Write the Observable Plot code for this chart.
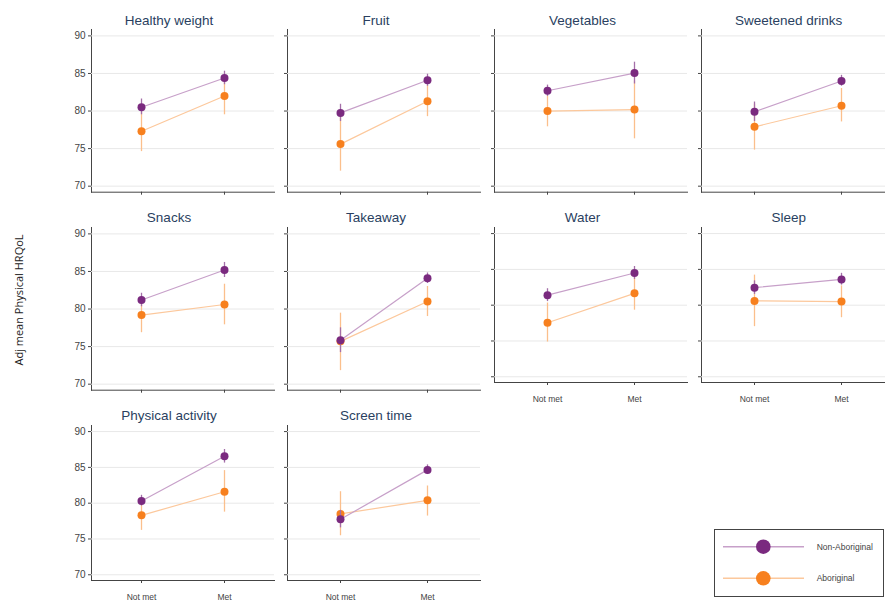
<!DOCTYPE html>
<html><head><meta charset="utf-8">
<script src="https://cdn.jsdelivr.net/npm/d3@7"></script>
<script src="https://cdn.jsdelivr.net/npm/@observablehq/plot@0.6"></script>
<style>
body{margin:0;background:#fff;}
#chart{position:relative;width:885px;height:602px;overflow:hidden;font-family:"Liberation Sans",Arial,sans-serif;}
.panel{position:absolute;}
.panel svg{max-width:none !important;}
#overlay{position:absolute;left:0;top:0;pointer-events:none;}
</style></head><body><div id="chart"></div>
<script>
const panelNames = ["Healthy weight","Fruit","Vegetables","Sweetened drinks","Snacks","Takeaway","Water","Sleep","Physical activity","Screen time"];
const levels = ["Not met","Met"];
const groups = ["Non-Aboriginal","Aboriginal"];
const yTicks = [70,75,80,85,90];
const yLabel = "Adj mean Physical HRQoL";
const nonAbMean = [[80.5,84.4],[79.75,84.1],[82.7,85.05],[79.9,84.0],[81.2,85.2],[75.85,84.1],[81.4,84.5],[82.45,83.6],[80.3,86.55],[77.75,84.65]];
const nonAbLow  = [[79.5,83.5],[78.6,83.3],[81.95,83.6],[78.6,83.3],[80.3,84.2],[74.2,83.4],[80.5,83.6],[81.5,82.8],[79.6,85.6],[76.55,84.0]];
const nonAbHigh = [[81.6,85.3],[80.9,84.9],[83.45,86.5],[81.2,84.75],[82.1,86.2],[77.5,84.8],[82.3,85.4],[83.4,84.45],[81.1,87.5],[79.0,85.35]];
const abMean = [[77.3,82.0],[75.6,81.3],[80.0,80.2],[77.9,80.7],[79.2,80.6],[75.7,81.0],[77.55,81.65],[80.6,80.5],[78.3,81.6],[78.5,80.4]];
const abLow  = [[74.6,79.5],[72.0,79.25],[77.9,76.3],[74.8,78.55],[76.85,77.9],[71.8,79.0],[74.85,79.3],[77.0,78.25],[76.2,78.75],[75.45,78.2]];
const abHigh = [[79.9,84.5],[79.2,83.4],[82.0,84.0],[80.9,83.0],[81.5,83.3],[79.45,83.0],[80.3,84.0],[84.2,82.7],[80.4,84.55],[81.6,82.4]];

// layout / style
const colL = [90.5, 287, 493.5, 700.5];
const colW = [183, 193, 193, 193];
const rowT = [29.3, 227.3, 424.9];
const hFull = 162.7, hShort = 155.0;
const titleX = [169, 376, 582.5, 788.7];
const titleY = [20, 217, 415.7];
const yDomain = [69.2, 90.85];
const style = {
  "Non-Aboriginal": {dot: "#7a2a7f", line: "#c7a0c9", err: "#a46fa8"},
  "Aboriginal": {dot: "#f7801e", line: "#fcc89c", err: "#fbbf8c"}
};
const fontFamily = '"Liberation Sans", Arial, sans-serif';

const chart = document.getElementById("chart");
panelNames.forEach((name, i) => {
  const r = Math.floor(i / 4), c = i % 4;
  const showX = i >= 6;
  const showY = c === 0;
  const mL = 30, mR = 0, mT = 0, mB = 26;
  const w = colW[c], h = showX ? hShort : hFull;
  const series = {
    "Non-Aboriginal": levels.map((lv, j) => ({group: "Non-Aboriginal", level: lv, mean: nonAbMean[i][j], low: nonAbLow[i][j], high: nonAbHigh[i][j]})),
    "Aboriginal": levels.map((lv, j) => ({group: "Aboriginal", level: lv, mean: abMean[i][j], low: abLow[i][j], high: abHigh[i][j]}))
  };
  const marks = [Plot.gridY(yTicks, {stroke: "#e8e8e8", strokeOpacity: 1})];
  ["Aboriginal", "Non-Aboriginal"].forEach(g => {
    const s = style[g];
    marks.push(
      Plot.ruleX(series[g], {x: "level", y1: "low", y2: "high", stroke: s.err, strokeWidth: 1.3}),
      Plot.lineY(series[g], {x: "level", y: "mean", stroke: s.line, strokeWidth: 1.2}),
      Plot.dot(series[g], {x: "level", y: "mean", r: 4, fill: s.dot, stroke: "none"})
    );
  });
  const W = w + mL + mR, H = h + mT + mB;
  const svg = Plot.plot({
    width: W, height: H,
    marginLeft: mL, marginRight: mR, marginTop: mT, marginBottom: mB,
    style: {fontFamily, fontSize: "10px", color: "#444", overflow: "visible", background: "transparent", maxWidth: "none"},
    x: {type: "point", domain: levels, padding: 0.6, tickSize: 3, tickPadding: 10.8,
        tickFormat: showX ? (d => d) : (() => ""), line: true, label: null},
    y: {domain: yDomain, ticks: yTicks, tickSize: 3, tickPadding: 3,
        tickFormat: showY ? (d => d) : (() => ""), line: true, label: null},
    marks
  });
  d3.select(svg).selectAll('g[aria-label="x-axis tick label"]').attr("font-size", "8.5px");
  const div = document.createElement("div");
  div.className = "panel";
  div.style.left = (colL[c] - mL) + "px";
  div.style.top = (rowT[r] - mT) + "px";
  div.style.width = W + "px";
  div.style.height = H + "px";
  div.append(svg);
  chart.append(div);
});

// overlay: titles, y label, legend
const ov = d3.select(chart).append("svg").attr("id", "overlay").attr("width", 885).attr("height", 602);
panelNames.forEach((name, i) => {
  const r = Math.floor(i / 4), c = i % 4;
  ov.append("text").attr("x", titleX[c]).attr("y", titleY[r]).attr("dy", "0.35em")
    .attr("text-anchor", "middle").attr("font-family", fontFamily).attr("font-size", 13.5)
    .attr("fill", "#2a3f5f").text(name);
});
ov.append("text").attr("transform", "translate(19,300) rotate(-90)").attr("dy", "0.35em")
  .attr("text-anchor", "middle").attr("font-family", '"Open Sans", sans-serif').attr("font-size", 11)
  .attr("fill", "#222").text(yLabel);
const lg = ov.append("g");
lg.append("rect").attr("x", 714.5).attr("y", 529.5).attr("width", 169).attr("height", 67)
  .attr("fill", "#fff").attr("stroke", "#444").attr("stroke-width", 1);
groups.forEach((g, k) => {
  const y = 546.7 + k * 31.6;
  const s = style[g];
  lg.append("line").attr("x1", 723).attr("x2", 804).attr("y1", y).attr("y2", y).attr("stroke", s.line).attr("stroke-width", 1.5);
  lg.append("circle").attr("cx", 763.3).attr("cy", y).attr("r", 7.3).attr("fill", s.dot);
  lg.append("text").attr("x", 816.7).attr("y", y).attr("dy", "0.35em").attr("font-family", fontFamily)
    .attr("font-size", 8.5).attr("fill", "#444").text(g);
});
</script></body></html>
